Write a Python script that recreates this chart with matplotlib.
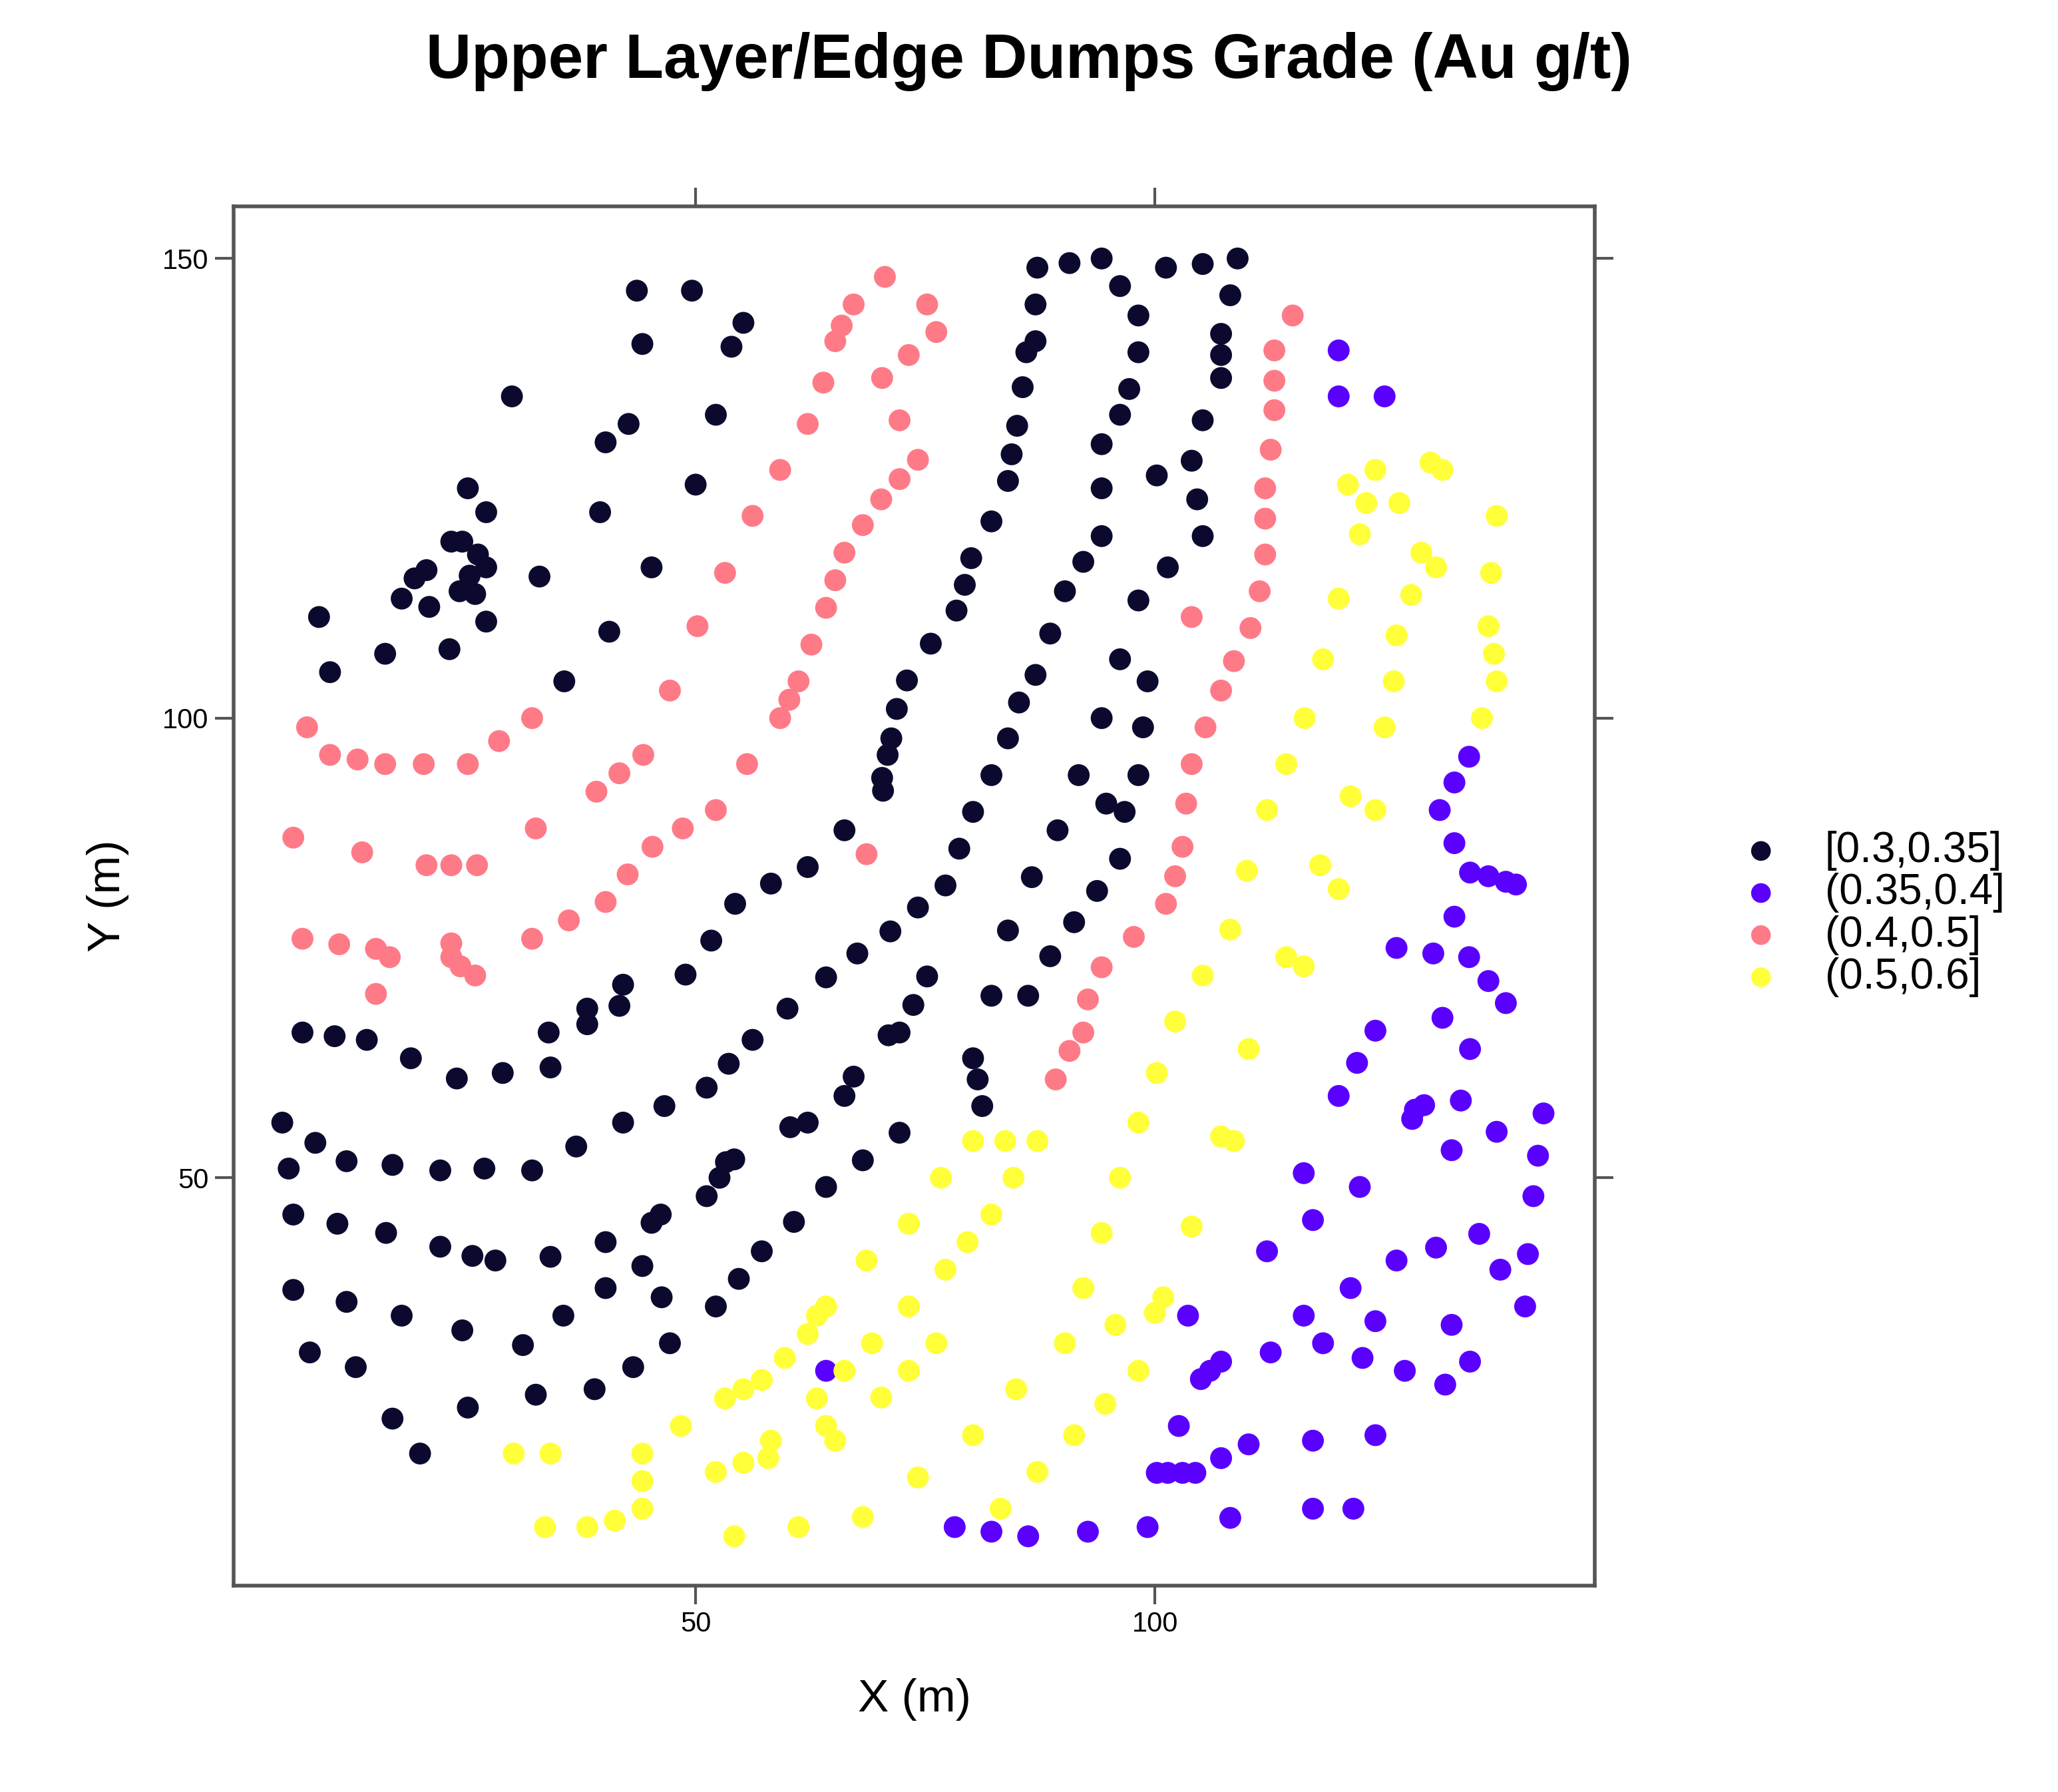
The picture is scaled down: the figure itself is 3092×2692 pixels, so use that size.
import numpy as np
import matplotlib
matplotlib.use("Agg")
import matplotlib.pyplot as plt

plt.rcParams['font.family'] = ['Liberation Sans', 'DejaVu Sans']

# grade classes
labels = ["[0.3,0.35]", "(0.35,0.4]", "(0.4,0.5]", "(0.5,0.6]"]
colors = ["#0b0a2e", "#5a00ff", "#ff7a87", "#ffff3a"]

black_x = [43.6, 49.6, 44.2, 55.2, 53.9, 30.0, 52.2, 42.7, 40.2, 50.0, 25.2, 27.2, 39.6, 23.4, 24.6, 26.3, 27.2, 25.4,
           24.3, 26.0, 20.7, 19.4, 18.0, 21.0, 27.2, 33.0, 45.2, 40.6, 23.2, 16.2, 9.0, 10.2, 35.7,
           7.2, 10.7, 14.2, 19.0, 24.0, 29.0, 34.2, 34.0, 38.2, 38.2, 41.7, 42.1, 48.9, 51.7, 54.3, 58.2, 62.2, 66.2,
           5.0, 5.7, 8.6, 12.0, 17.0, 22.2, 27.0, 32.2, 37.0, 42.1, 46.6, 51.2, 53.6, 56.2, 60.0, 64.2, 67.6, 71.2,
           74.2, 77.2, 78.7, 80.2, 82.2, 84.0, 85.2, 87.0, 88.6, 90.2, 92.2, 94.2, 94.2, 94.2, 96.2, 97.2, 98.2, 98.2,
           96.2, 94.2, 90.7, 87.2, 87.0, 87.0, 86.0, 85.6, 85.0, 84.4, 84.0, 82.2, 80.0, 79.3, 78.4, 75.6, 73.0, 71.9,
           71.3, 70.9, 70.3, 70.4,
           6.2, 6.2, 11.0, 12.0, 16.3, 18.0, 22.2, 25.7, 28.2, 34.2, 40.2, 40.2, 44.2, 45.2, 46.2, 51.2, 52.6, 53.3,
           54.2, 60.3, 62.2, 66.2, 67.2, 68.2, 64.2, 72.2, 71.0, 72.2, 73.7, 75.2,
           8.0, 13.0, 17.0, 20.0, 24.6, 25.2, 31.2, 32.6, 35.6, 39.0, 43.2, 46.3, 47.2, 52.2, 54.7, 57.2, 60.7,
           105.2, 104.0, 104.6, 105.2, 101.4, 100.2, 98.2, 96.2, 99.2, 94.2, 98.7, 98.2, 94.7, 96.7, 96.2, 93.7, 91.2,
           88.6, 84.0, 86.6, 89.4, 91.7, 101.2, 105.2, 109.0, 108.2, 107.2, 107.2, 107.2, 82.2, 86.2, 80.2, 80.7, 81.2]
black_y = [146.5, 146.5, 140.7, 143.0, 140.4, 135.0, 133.0, 132.0, 130.0, 125.4, 125.0, 122.4, 122.4, 119.2, 119.2,
           117.8, 116.4, 115.5, 113.8, 113.5, 116.1, 115.2, 113.0, 112.1, 110.5, 115.4, 116.4, 109.4, 107.5, 107.0,
           111.0, 105.0, 104.0,
           65.8, 65.4, 65.0, 63.0, 60.8, 61.4, 62.0, 65.8, 66.7, 68.4, 68.7, 71.0, 72.1, 75.8, 79.8, 82.0, 83.8, 87.8,
           56.0, 51.0, 53.8, 51.8, 51.4, 50.8, 51.0, 50.8, 53.4, 56.0, 57.8, 59.8, 62.4, 65.0, 68.4, 71.8, 74.4, 76.8,
           79.4, 81.8, 85.8, 89.8, 93.8, 97.8, 101.7, 104.7, 109.2, 113.8, 117.0, 119.8, 125.0, 129.8, 133.0, 135.8,
           139.8, 143.8, 147.0, 150.0, 149.5, 149.0, 145.0, 141.0, 139.8, 136.0, 131.8, 128.7, 125.8, 121.4, 117.4,
           114.5, 111.7, 108.1, 104.1, 101.0, 97.8, 96.0, 93.5, 92.1,
           46.0, 37.8, 45.0, 36.5, 44.0, 35.0, 42.5, 41.5, 41.0, 41.4, 43.0, 38.0, 40.4, 45.1, 46.0, 48.0, 50.0, 51.7,
           52.0, 55.5, 56.0, 58.9, 61.0, 51.9, 49.0, 54.9, 65.5, 65.8, 68.8, 71.9,
           31.0, 29.4, 23.8, 20.0, 33.4, 25.0, 31.8, 26.4, 35.0, 27.0, 29.4, 37.0, 32.0, 36.0, 39.0, 42.0, 45.2,
           132.4, 128.0, 123.8, 119.8, 116.4, 126.4, 112.8, 106.4, 104.0, 100.0, 99.0, 93.8, 90.7, 89.8, 84.7, 81.2,
           77.8, 74.1, 76.9, 82.7, 87.8, 93.8, 149.0, 149.4, 150.0, 146.0, 141.8, 139.5, 137.0, 69.8, 69.8, 63.0, 60.7,
           57.8]

purple_x = [120.0, 120.0, 125.0, 134.2, 132.6, 131.0, 132.6, 134.3, 136.3, 138.2, 139.3, 132.6, 126.3, 130.3, 134.2,
            136.3, 138.2, 131.3, 134.3, 124.0, 122.0, 120.0, 128.3, 129.3, 133.3, 128.0, 137.2, 142.3, 132.3, 141.7,
            116.2, 122.3, 141.2, 117.2, 112.2, 135.3, 130.6, 126.3, 140.6, 137.6, 121.3, 140.3, 116.2, 124.0, 132.3,
            118.3, 112.6, 122.6, 127.2, 134.3, 131.6, 103.6, 107.2, 106.0, 105.0, 64.2, 102.6, 100.2, 101.4, 103.0,
            104.4, 107.2, 110.2, 117.2, 124.0, 117.2, 121.6, 108.2, 99.2, 92.7, 86.2, 82.2, 78.2]
purple_y = [140.0, 135.0, 135.0, 95.8, 93.0, 90.0, 86.4, 83.2, 82.8, 82.2, 81.9, 78.4, 75.0, 74.4, 74.0, 71.4, 69.0,
            67.4, 64.0, 66.0, 62.5, 58.9, 57.4, 57.9, 58.4, 56.4, 55.0, 57.0, 53.0, 52.4, 50.5, 49.0, 48.0, 45.4, 42.0,
            43.9, 42.4, 41.0, 41.7, 40.0, 38.0, 36.0, 35.0, 34.4, 34.0, 32.0, 31.0, 30.4, 29.0, 30.0, 27.5, 35.0, 30.0,
            29.0, 28.1, 29.0, 23.0, 17.9, 17.9, 17.9, 17.9, 19.5, 21.0, 21.4, 22.0, 14.0, 14.0, 13.0, 12.0, 11.5, 11.0,
            11.5, 12.0]

pink_x = [7.7, 10.2, 13.2, 16.2, 20.4, 25.2, 28.6, 32.2, 6.2, 13.7, 20.7, 23.4, 26.2, 7.2, 11.2, 15.2, 16.7, 15.2,
          23.4, 23.4, 24.4, 26.0, 32.2, 36.2, 40.2, 42.6, 45.3, 48.6, 52.2, 32.6, 39.2, 41.7, 44.3, 55.6, 47.2, 50.2,
          53.2, 56.2, 59.2, 62.2, 63.9, 65.2, 65.9, 67.2, 70.6, 75.2, 76.2, 73.2, 70.3, 72.2, 74.2, 72.2, 70.2, 68.2,
          66.2, 65.2, 64.2, 62.6, 61.2, 60.2, 59.2, 68.6, 115.0, 113.0, 113.0, 113.0, 112.6, 112.0, 112.0, 112.0,
          111.4, 110.4, 108.6, 107.2, 105.5, 104.0, 103.4, 103.0, 102.2, 101.2, 97.7, 94.2, 92.7, 92.2, 90.7, 89.2,
          104.0]
pink_y = [99.0, 96.0, 95.5, 95.0, 95.0, 95.0, 97.5, 100.0, 87.0, 85.4, 84.0, 84.0, 84.0, 76.0, 75.4, 74.9, 74.0, 70.0,
          75.5, 74.0, 73.0, 72.0, 76.0, 78.0, 80.0, 83.0, 86.0, 88.0, 90.0, 88.0, 92.0, 94.0, 96.0, 95.0, 103.0, 110.0,
          115.8, 122.0, 127.0, 132.0, 136.5, 141.0, 142.7, 145.0, 148.0, 145.0, 142.0, 139.5, 137.0, 132.4, 128.1,
          126.0, 123.8, 121.0, 118.0, 115.0, 112.0, 108.0, 104.0, 102.0, 100.0, 85.2, 143.8, 140.0, 136.7, 133.5,
          129.2, 125.0, 121.7, 117.8, 113.8, 109.8, 106.2, 103.0, 99.0, 95.0, 90.7, 86.0, 82.8, 79.8, 76.2, 72.9, 69.4,
          65.8, 63.8, 60.7, 111.0]

yellow_x = [121.0, 124.0, 123.0, 126.6, 130.0, 131.3, 137.2, 122.3, 129.0, 130.6, 136.6, 120.0, 127.9, 136.3, 126.3,
            136.9, 118.3, 137.2, 126.0, 135.6, 116.3, 125.0, 114.3, 121.3, 124.0, 112.2, 118.0, 120.0, 110.0, 108.2,
            114.3, 116.2, 105.2, 102.2, 110.2, 100.2, 98.2, 107.2, 108.6, 96.2, 104.0, 94.2, 92.2, 100.9, 100.0, 95.7,
            90.2, 98.2, 94.6, 91.2, 87.2, 83.2, 84.9, 80.2, 80.2, 83.7, 87.2, 84.6, 82.2, 79.6, 77.2, 76.2, 73.2, 73.2,
            74.2, 70.2, 69.2, 68.6, 73.2, 76.7, 68.2, 66.2, 64.2, 63.2, 62.2, 63.2, 64.2, 65.2, 59.7, 57.2, 55.2, 53.2,
            58.2, 57.9, 55.2, 52.2, 61.2, 54.2, 48.4, 44.2, 44.2, 44.2, 41.2, 38.2, 33.6, 30.2, 34.2]
yellow_y = [125.4, 127.0, 123.4, 123.4, 127.8, 127.0, 122.0, 120.0, 118.0, 116.4, 115.8, 113.0, 113.4, 110.0, 109.0,
            107.0, 106.4, 104.0, 104.0, 100.0, 100.0, 99.0, 95.0, 91.5, 90.0, 90.0, 84.0, 81.4, 83.4, 77.0, 74.0, 73.0,
            72.0, 67.0, 64.0, 61.4, 56.0, 54.5, 54.0, 50.0, 44.7, 44.0, 38.0, 37.0, 35.3, 34.0, 32.0, 29.0, 25.4, 22.0,
            18.0, 14.0, 27.0, 22.0, 54.0, 54.0, 54.0, 50.0, 46.0, 43.0, 40.0, 32.0, 36.0, 29.0, 17.4, 26.1, 32.0, 41.0,
            45.0, 50.0, 13.1, 29.0, 36.0, 35.0, 33.0, 26.0, 23.0, 21.4, 30.4, 28.0, 27.0, 26.0, 21.4, 19.5, 19.0, 18.0,
            12.0, 11.0, 23.0, 20.0, 17.0, 14.0, 12.7, 12.0, 12.0, 20.0, 20.0]

series = [(black_x, black_y), (purple_x, purple_y), (pink_x, pink_y), (yellow_x, yellow_y)]

fig = plt.figure(figsize=(15.46, 13.46), dpi=200)
ax = fig.add_axes([0.1135, 0.115, 0.6615, 0.77])

handles = []
for (xs, ys), c, lab in zip(series, colors, labels):
    h = ax.scatter(xs, ys, s=140, color=c, edgecolors="none", label=lab)
    handles.append(h)

ax.set_xlim(-0.3, 147.9)
ax.set_ylim(5.6, 155.7)
ax.set_xticks([50, 100])
ax.set_yticks([50, 100, 150])
ax.tick_params(axis="both", which="both", direction="out", length=10, width=1.5, labelsize=15,
               top=True, right=True, colors="#555555", labelcolor="black")
for sp in ax.spines.values():
    sp.set_linewidth(2)
    sp.set_color("#555555")

ax.set_xlabel("X (m)", fontsize=25, labelpad=22)
ax.set_ylabel("Y (m)", fontsize=25, labelpad=18)
fig.suptitle("Upper Layer/Edge Dumps Grade (Au g/t)", fontsize=34, fontweight="bold", y=0.982)

fig.legend(handles=handles, labels=labels, loc="center left", bbox_to_anchor=(0.835, 0.49),
           frameon=False, fontsize=23, markerscale=0.9, handletextpad=0.9, labelspacing=0.05,
           handlelength=1.2, borderaxespad=0)

fig.savefig("out.png", dpi=200)
